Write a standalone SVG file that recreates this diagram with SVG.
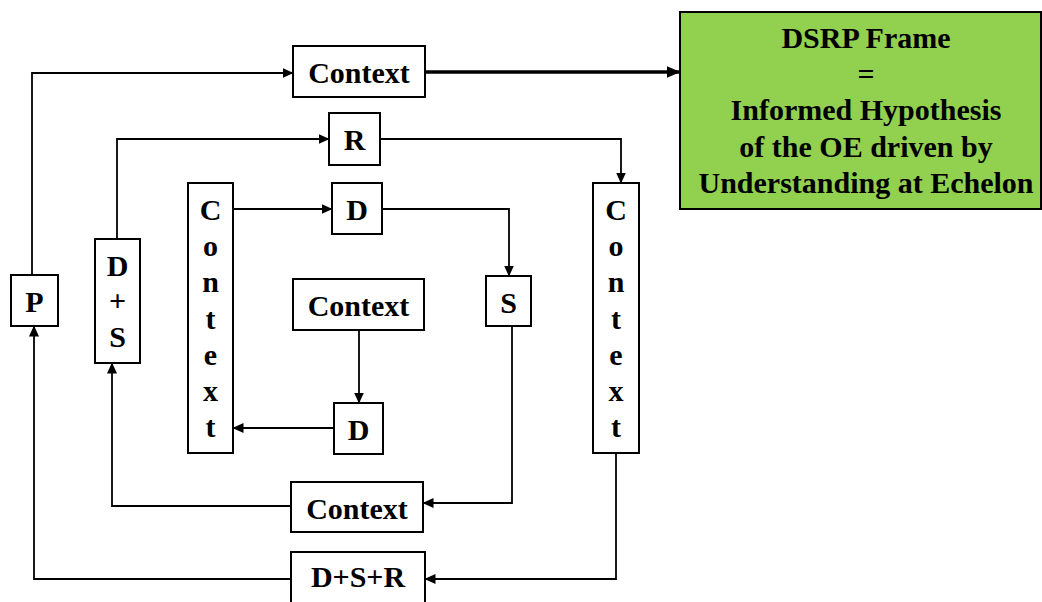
<svg xmlns="http://www.w3.org/2000/svg" width="1042" height="602" viewBox="0 0 1042 602">
<style>
  .box { fill: #ffffff; stroke: #000000; stroke-width: 2; }
  .green { fill: #92D050; stroke: #000000; stroke-width: 2; }
  .t { font-family: "Liberation Serif", "Times New Roman", serif; font-weight: bold; font-size: 30px; fill: #000000; text-anchor: middle; }
  .c { fill: none; stroke: #000000; stroke-width: 1.8; marker-end: url(#ah); }
  .thick { fill: none; stroke: #000000; stroke-width: 3.5; marker-end: url(#ahb); }
</style>
<defs>
  <marker id="ah" markerWidth="11" markerHeight="10" refX="10.5" refY="5" orient="auto" markerUnits="userSpaceOnUse">
    <path d="M0,0 L11,5 L0,10 z" fill="#000000"/>
  </marker>
  <marker id="ahb" markerWidth="14" markerHeight="12" refX="13.5" refY="6" orient="auto" markerUnits="userSpaceOnUse">
    <path d="M0,0 L14,6 L0,12 z" fill="#000000"/>
  </marker>
</defs>
<rect width="1042" height="602" fill="#ffffff"/>

<g id="connectors">
  <polyline class="c" points="32,275 32,73 293,73"/>
  <line class="thick" x1="425" y1="72" x2="680" y2="72"/>
  <polyline class="c" points="117,239 117,139 329,139"/>
  <polyline class="c" points="380,139 621,139 621,183"/>
  <line class="c" x1="233" y1="209" x2="332" y2="209"/>
  <polyline class="c" points="382,209 509,209 509,276"/>
  <line class="c" x1="359" y1="330" x2="359" y2="403"/>
  <line class="c" x1="334" y1="428" x2="233" y2="428"/>
  <polyline class="c" points="512,326 512,503 423,503"/>
  <polyline class="c" points="291,506 112,506 112,363"/>
  <polyline class="c" points="616,453 616,579 425,579"/>
  <polyline class="c" points="291,579 34,579 34,326"/>
</g>

<g id="frame">
  <rect class="green" x="680" y="12" width="361" height="197"/>
  <text class="t" x="866" y="48">DSRP Frame</text>
  <text class="t" x="866" y="84">=</text>
  <text class="t" x="866" y="120">Informed Hypothesis</text>
  <text class="t" x="866" y="157">of the OE driven by</text>
  <text class="t" x="866" y="193">Understanding at Echelon</text>
</g>

<g id="context-top">
  <rect class="box" x="293" y="46" width="132" height="51"/>
  <text class="t" x="359" y="83">Context</text>
</g>

<g id="r">
  <rect class="box" x="329" y="113" width="51" height="52"/>
  <text class="t" x="354.5" y="150">R</text>
</g>

<g id="d-top">
  <rect class="box" x="332" y="183" width="50" height="51"/>
  <text class="t" x="357" y="220">D</text>
</g>

<g id="context-mid">
  <rect class="box" x="293" y="279" width="131" height="51"/>
  <text class="t" x="358.5" y="316">Context</text>
</g>

<g id="d-bottom">
  <rect class="box" x="334" y="403" width="49" height="51"/>
  <text class="t" x="358.5" y="440">D</text>
</g>

<g id="s">
  <rect class="box" x="486" y="276" width="45" height="50"/>
  <text class="t" x="508.5" y="313">S</text>
</g>

<g id="p">
  <rect class="box" x="11" y="275" width="47" height="51"/>
  <text class="t" x="34.5" y="312">P</text>
</g>

<g id="d-plus-s">
  <rect class="box" x="95" y="239" width="45" height="124"/>
  <text class="t" x="117.5" y="276">D</text>
  <text class="t" x="117.5" y="311">+</text>
  <text class="t" x="117.5" y="347">S</text>
</g>

<g id="context-left">
  <rect class="box" x="188" y="183" width="45" height="270"/>
  <text class="t" x="210.5" y="220">C</text>
  <text class="t" x="210.5" y="256">o</text>
  <text class="t" x="210.5" y="292">n</text>
  <text class="t" x="210.5" y="329">t</text>
  <text class="t" x="210.5" y="365">e</text>
  <text class="t" x="210.5" y="401">x</text>
  <text class="t" x="210.5" y="437">t</text>
</g>

<g id="context-right">
  <rect class="box" x="593" y="183" width="46" height="270"/>
  <text class="t" x="616" y="220">C</text>
  <text class="t" x="616" y="256">o</text>
  <text class="t" x="616" y="292">n</text>
  <text class="t" x="616" y="329">t</text>
  <text class="t" x="616" y="365">e</text>
  <text class="t" x="616" y="401">x</text>
  <text class="t" x="616" y="437">t</text>
</g>

<g id="context-bottom">
  <rect class="box" x="291" y="482" width="132" height="50"/>
  <text class="t" x="357" y="519">Context</text>
</g>

<g id="dsr">
  <rect class="box" x="291" y="552" width="134" height="60"/>
  <text class="t" x="358" y="587">D+S+R</text>
</g>
</svg>
